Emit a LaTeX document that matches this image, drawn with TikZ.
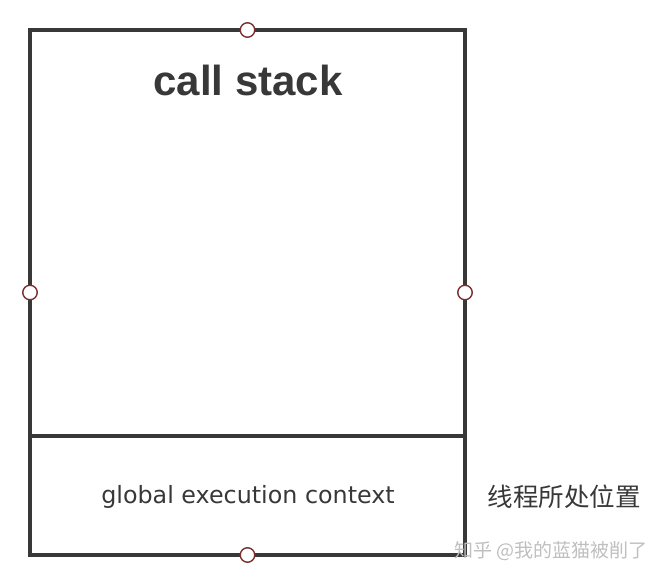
\documentclass[tikz,border=0pt]{standalone}
\usepackage{fontspec}
\setmainfont{Liberation Sans}
\newfontfamily\dejavu{DejaVu Sans}
\newfontfamily\cjk{Noto Sans CJK SC}
\usepackage{tikz}
\usetikzlibrary{positioning}
\definecolor{framegray}{HTML}{383838}
\definecolor{handlered}{HTML}{7A3030}
\tikzset{
  stackbox/.style={rectangle, draw=framegray, line width=3.2pt, minimum width=435pt, minimum height=525pt, outer sep=0pt},
  divider/.style={draw=framegray, line width=3.2pt},
  handle/.style={circle, draw=handlered, fill=white, line width=1.4pt, minimum size=14.5pt, inner sep=0pt},
  titletext/.style={font=\bfseries\fontsize{42}{50}\selectfont, text=framegray, inner sep=0pt},
  gectext/.style={font=\dejavu\fontsize{23.8}{28}\selectfont, text=framegray, inner sep=0pt},
  cjktext/.style={font=\cjk\fontsize{25.5}{30}\selectfont, text=framegray, inner sep=0pt},
  watermark/.style={font=\cjk\fontsize{19}{23}\selectfont, text=black!25, inner sep=0pt},
}
\begin{document}
\begin{tikzpicture}[x=1pt, y=-1pt]
  \useasboundingbox (0,0) rectangle (668,580);
  \node[stackbox] (stack) at (247.5,292.5) {};
  \coordinate (divl) at (30,436);
  \coordinate (divr) at (465,436);
  \draw[divider] (divl) -- (divr);

  \node[titletext] (title) at (248,80) {call stack};
  \node[gectext] (gec) at (248,497) {global execution context};
  \node[cjktext] (where) at (564,497) {线程所处位置};

  % resize handles on the frame
  \node[handle] (hn) at (stack.north) {};
  \node[handle] (hs) at (stack.south) {};
  \node[handle] (hw) at (stack.west) {};
  \node[handle] (he) at (stack.east) {};

  \node[watermark] (mark) at (551,551) {知乎 @我的蓝猫被削了};
\end{tikzpicture}
\end{document}
